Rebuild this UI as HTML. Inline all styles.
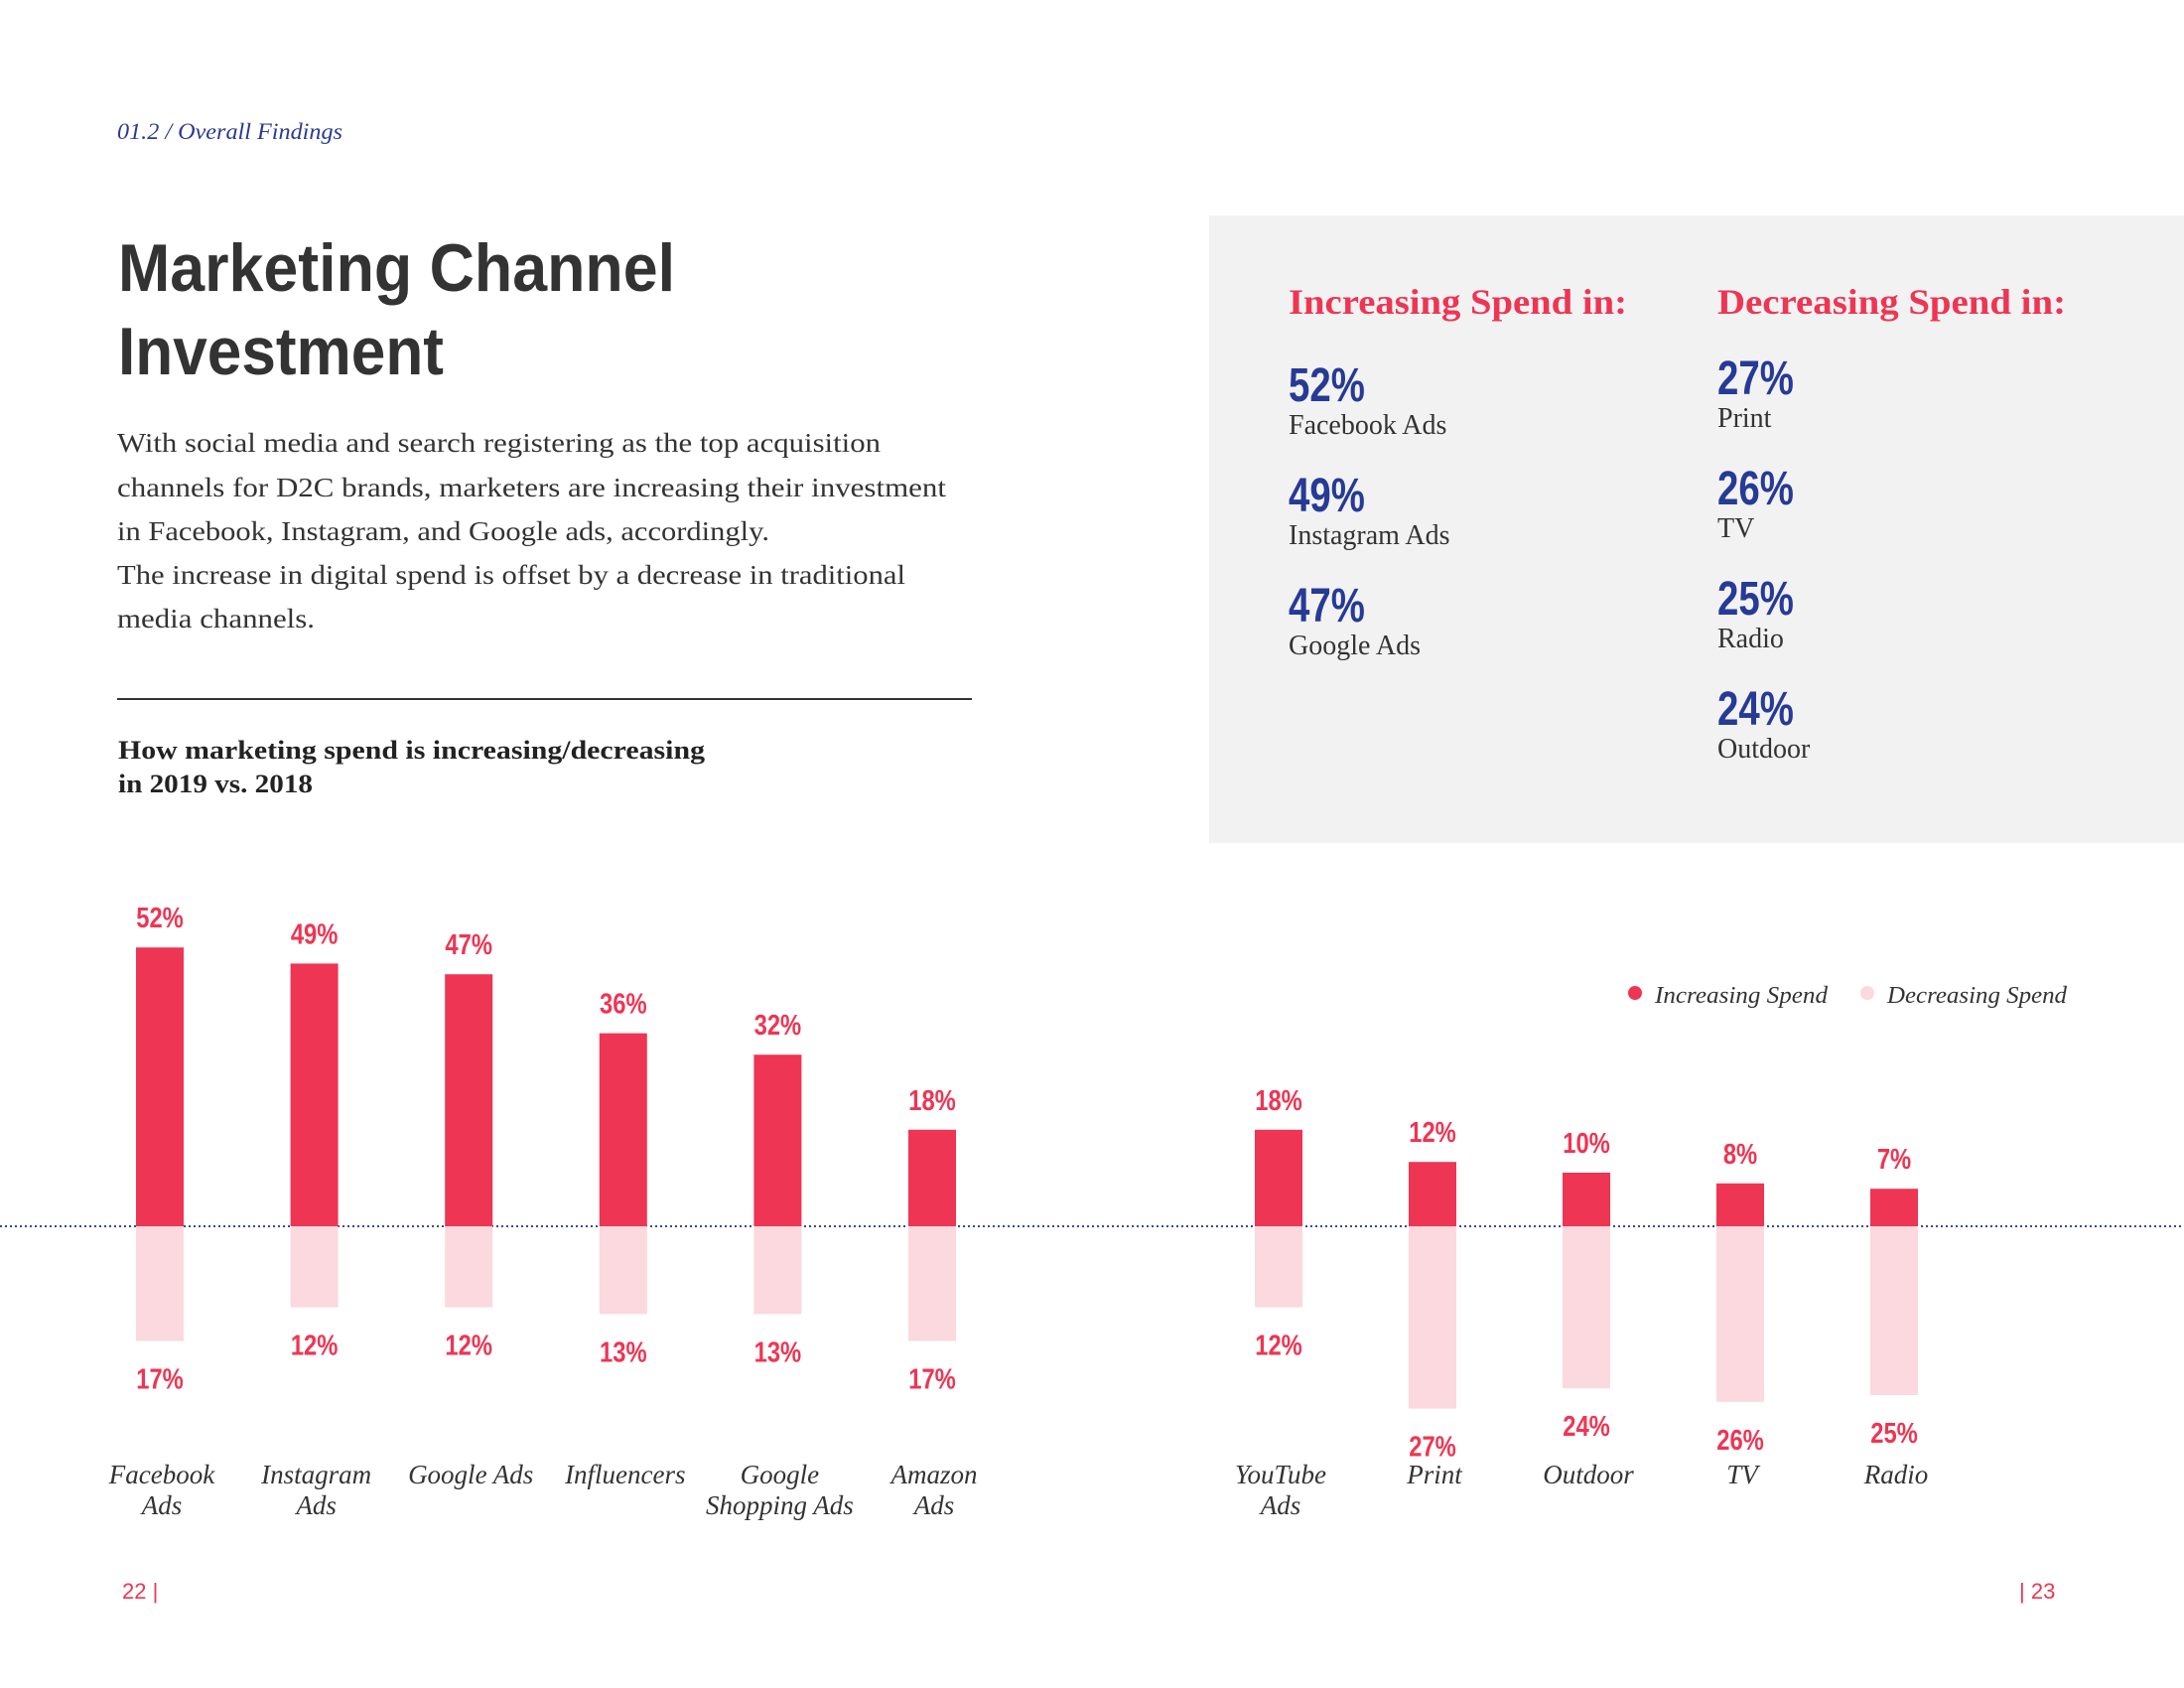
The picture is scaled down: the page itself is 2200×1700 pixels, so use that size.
<!DOCTYPE html>
<html><head><meta charset="utf-8"><style>
html,body{margin:0;padding:0;background:#fff}
svg{display:block}
.serif{font-family:"Liberation Serif",serif}
.narrow{font-family:"Liberation Sans Narrow","Liberation Sans",sans-serif}
</style></head><body>
<svg id="page" width="2200" height="1700" viewBox="0 0 2200 1700" xmlns="http://www.w3.org/2000/svg">
<rect x="1218" y="217" width="982" height="632" fill="#f2f2f2"/>
<text x="118" y="140" class="serif" font-style="italic" font-size="23" fill="#2b3990" textLength="227" lengthAdjust="spacingAndGlyphs">01.2 / Overall Findings</text>
<g class="narrow" font-weight="bold" font-size="68" fill="#333">
<text x="119" y="293" textLength="561" lengthAdjust="spacingAndGlyphs">Marketing Channel</text><text x="119" y="377" textLength="328" lengthAdjust="spacingAndGlyphs">Investment</text></g>
<g class="serif" font-size="27" fill="#333" lengthAdjust="spacingAndGlyphs">
<text x="118" y="455" textLength="769" lengthAdjust="spacingAndGlyphs">With social media and search registering as the top acquisition</text>
<text x="118" y="500" textLength="835" lengthAdjust="spacingAndGlyphs">channels for D2C brands, marketers are increasing their investment</text>
<text x="118" y="544" textLength="657" lengthAdjust="spacingAndGlyphs">in Facebook, Instagram, and Google ads, accordingly.</text>
<text x="118" y="588" textLength="794" lengthAdjust="spacingAndGlyphs">The increase in digital spend is offset by a decrease in traditional</text>
<text x="118" y="632" textLength="199" lengthAdjust="spacingAndGlyphs">media channels.</text></g>
<rect x="118" y="703" width="861" height="2" fill="#333"/>
<g class="serif" font-weight="bold" font-size="26" fill="#222">
<text x="119" y="764" textLength="591" lengthAdjust="spacingAndGlyphs">How marketing spend is increasing/decreasing</text><text x="119" y="798" textLength="196" lengthAdjust="spacingAndGlyphs">in 2019 vs. 2018</text></g>
<g class="serif" font-weight="bold" font-size="36" fill="#ee3553">
<text x="1298" y="316" textLength="341" lengthAdjust="spacingAndGlyphs">Increasing Spend in:</text>
<text x="1730" y="316" textLength="351" lengthAdjust="spacingAndGlyphs">Decreasing Spend in:</text></g>
<g id="stats"></g>
<line x1="0" y1="1235" x2="2200" y2="1235" stroke="#3a46a0" stroke-width="2" stroke-dasharray="2 3"/>
<g id="bars"></g>
<g>
<circle cx="1647" cy="1000" r="7" fill="#ee3553"/>
<text x="1667" y="1010" class="serif" font-style="italic" font-size="24" fill="#333" textLength="174" lengthAdjust="spacingAndGlyphs">Increasing Spend</text>
<circle cx="1881" cy="1000" r="7" fill="#fbd9de"/>
<text x="1901" y="1010" class="serif" font-style="italic" font-size="24" fill="#333" textLength="181" lengthAdjust="spacingAndGlyphs">Decreasing Spend</text></g>
<text x="123" y="1610" class="narrow" font-size="22" fill="#ee3553">22 |</text>
<text x="2034" y="1610" class="narrow" font-size="22" fill="#ee3553">| 23</text>
</svg>
<script>
const categories = [["Facebook","Ads"],["Instagram","Ads"],["Google Ads"],["Influencers"],["Google","Shopping Ads"],["Amazon","Ads"],["YouTube","Ads"],["Print"],["Outdoor"],["TV"],["Radio"]];
const increasing = [52,49,47,36,32,18,18,12,10,8,7];
const decreasing = [17,12,12,13,13,17,12,27,24,26,25];
const incStatValues = [52,49,47];
const incStatLabels = ["Facebook Ads","Instagram Ads","Google Ads"];
const decStatValues = [27,26,25,24];
const decStatLabels = ["Print","TV","Radio","Outdoor"];

const NS = "http://www.w3.org/2000/svg";
const baseY = 1235;
function xPos(i){ return i < 6 ? 161 + i*155.6 : 1288 + (i-6)*155; }
function yUp(v){ return baseY - v*5.4; }
function yDown(v){ return baseY + v*6.8; }
function mk(tag, attrs, parent){ const e=document.createElementNS(NS,tag); for(const k in attrs) e.setAttribute(k,attrs[k]); parent.appendChild(e); return e; }
const bars = document.getElementById('bars');
const bw = 48;
categories.forEach((c,i)=>{
  const x = xPos(i);
  const g = mk('g',{},bars);
  
  
  const r1 = mk('rect',{x:x-bw/2,y:yUp(increasing[i]),width:bw,height:baseY-yUp(increasing[i]),fill:'#ee3553'},g);
  
  
  const r2 = mk('rect',{x:x-bw/2,y:baseY,width:bw,height:yDown(decreasing[i])-baseY,fill:'#fbd9de'},g);
  
  
  const t1 = mk('text',{x:0,y:0,transform:'translate('+x+','+(yUp(increasing[i])-20)+') scale(0.82,1)','text-anchor':'middle','class':'narrow','font-weight':'bold','font-size':29,fill:'#ee3553'},g);
  t1.textContent = increasing[i]+'%';
  
  
  const t2 = mk('text',{x:0,y:0,transform:'translate('+x+','+(yDown(decreasing[i])+48)+') scale(0.82,1)','text-anchor':'middle','class':'narrow','font-weight':'bold','font-size':29,fill:'#ee3553'},g);
  t2.textContent = decreasing[i]+'%';
  
  
  c.forEach((line,j)=>{
    const t = mk('text',{x:x+2,y:1494+j*31,'text-anchor':'middle','class':'serif','font-style':'italic','font-size':27,fill:'#333'},g);
    t.textContent = line;
    
    
  });
});
const stats = document.getElementById('stats');
function statCol(vals, labels, x, y0){
  vals.forEach((v,i)=>{
    const y = y0 + i*111;
    const n = mk('text',{x:0,y:0,transform:'translate('+x+','+(y+17)+') scale(0.8,1)','class':'narrow','font-weight':'bold','font-size':48,fill:'#263a96'},stats);
    n.textContent = v+'%';
    
    
    const l = mk('text',{x:x,y:y+50,'class':'serif','font-size':28,fill:'#333'},stats);
    l.textContent = labels[i];
    
    
  });
}
statCol(incStatValues, incStatLabels, 1298, 387);
statCol(decStatValues, decStatLabels, 1730, 380);
</script>
</body></html>
